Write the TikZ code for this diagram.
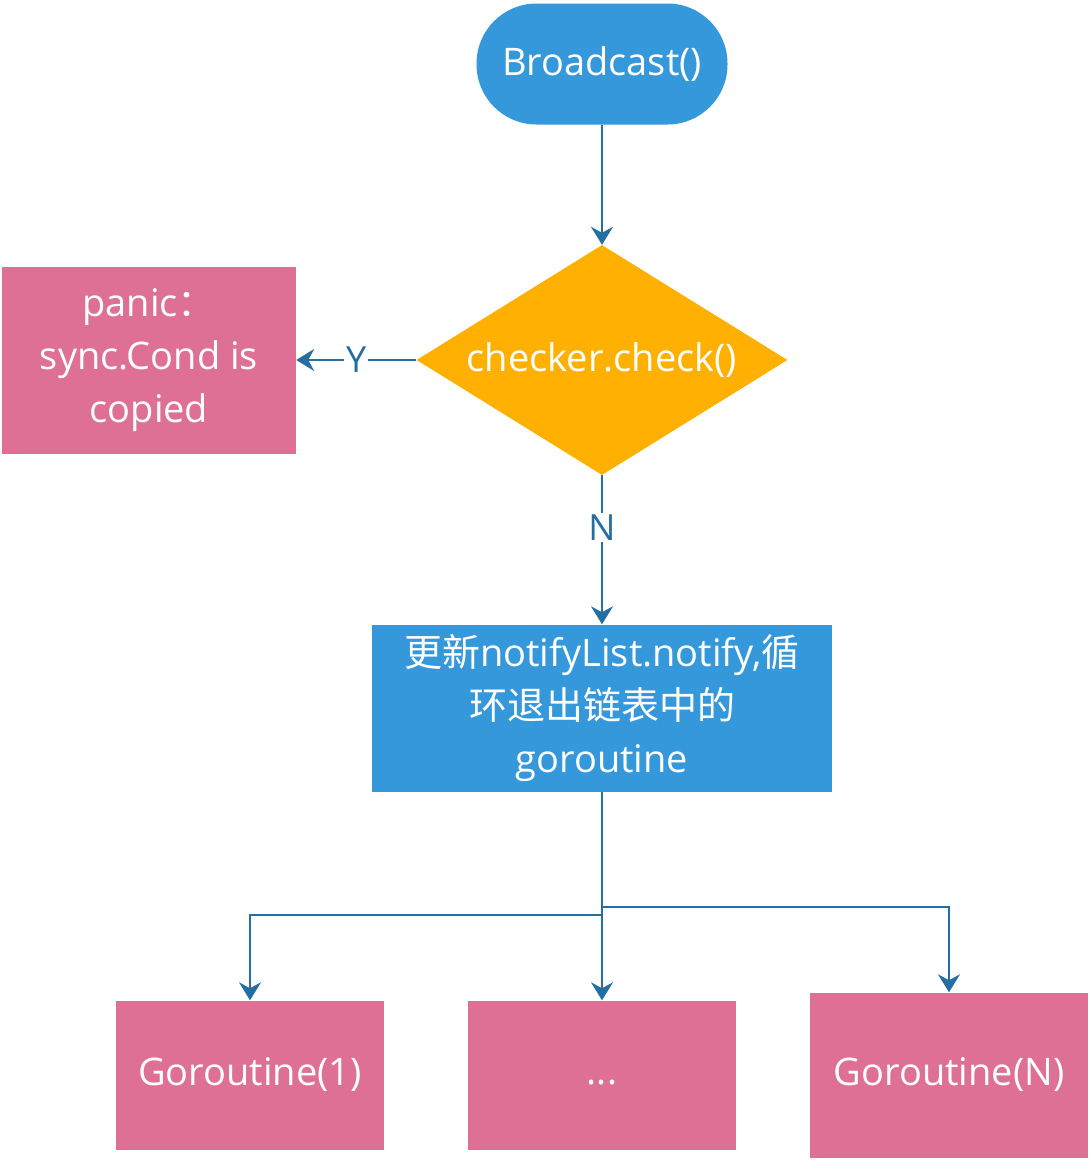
\documentclass[tikz,border=0pt]{standalone}
\usepackage{fontspec}
\setmainfont{Open Sans}
\newfontfamily\cjk{Noto Sans CJK SC}
\usetikzlibrary{shapes.geometric,arrows.meta}
\definecolor{cblue}{HTML}{3598DB}
\definecolor{corange}{HTML}{FFB000}
\definecolor{cpink}{HTML}{DD7094}
\definecolor{cline}{HTML}{246EA0}
\tikzset{
  lbl/.style={text=white,font=\fontsize{38}{53}\selectfont,align=center},
  pinkbox/.style={lbl,fill=cpink,inner sep=0pt},
  conn/.style={draw=cline,line width=2pt,-{Stealth[length=18pt,width=22pt,inset=6pt]}},
  edgelbl/.style={text=cline,fill=white,font=\fontsize{36}{40}\selectfont,inner sep=2pt}
}
\begin{document}
\begin{tikzpicture}[x=1pt,y=-1pt]
\useasboundingbox (0,0) rectangle (1090,1160);
\node[lbl,fill=cblue,rounded corners=60pt,minimum width=251pt,minimum height=121pt,inner sep=0pt] (start) at (602,64) {Broadcast()};
\node[lbl,fill=corange,diamond,minimum width=371pt,minimum height=230pt,inner sep=0pt,aspect=1.6] (check) at (602,360) {checker.check()};
\node[pinkbox,minimum width=294pt,minimum height=187pt] (panic) at (149,360) {panic{\cjk ：}\\sync.Cond is\\copied};
\node[lbl,fill=cblue,minimum width=460pt,minimum height=167pt,inner sep=0pt] (update) at (602,708) {{\cjk 更新}notifyList.notify,{\cjk 循}\\{\cjk 环退出链表中的}\\goroutine};
\node[pinkbox,minimum width=268pt,minimum height=149pt] (g1) at (250,1075) {Goroutine(1)};
\node[pinkbox,minimum width=268pt,minimum height=149pt] (gd) at (602,1075) {\vphantom{Gg}...};
\node[pinkbox,minimum width=278pt,minimum height=165pt] (gn) at (949,1075) {Goroutine(N)};
\draw[conn] (start.south) -- (check.north);
\draw[conn] (check.west) -- node[edgelbl] {Y} (panic.east);
\draw[conn] (check.south) -- node[edgelbl,pos=0.35] {N} (update.north);
\coordinate (j1) at (602,915);
\coordinate (j2) at (602,907);
\draw[conn] (update.south) |- (j1) -| (g1.north);
\draw[conn] (update.south) -- (gd.north);
\draw[conn] (update.south) |- (j2) -| (gn.north);
\end{tikzpicture}
\end{document}
